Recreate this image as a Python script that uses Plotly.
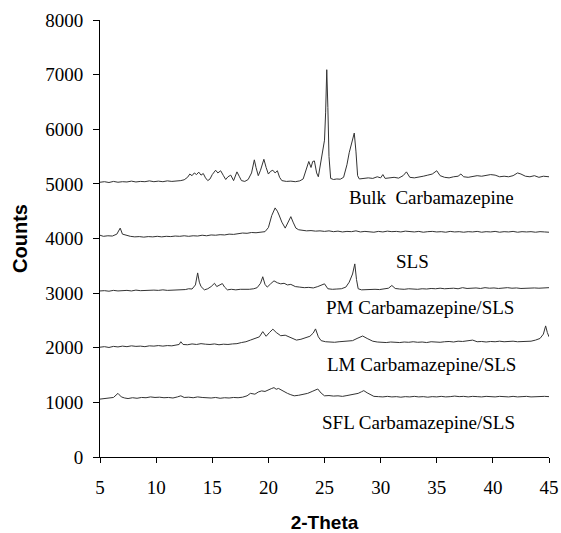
import plotly.graph_objects as go

# ---- data (2-theta, counts) ----
bulk_pattern = [(5.0,5030),(5.4,5040),(5.8,5025),(6.2,5045),(6.6,5030),(7.0,5040),(7.4,5035),(7.8,5050),(8.2,5035),(8.6,5045),(9.0,5040),(9.4,5055),(9.8,5040),(10.2,5050),(10.6,5040),(11.0,5055),(11.4,5045),(11.8,5050),(12.2,5060),(12.5,5075),(12.8,5120),(13.0,5180),(13.2,5150),(13.4,5200),(13.6,5170),(13.8,5215),(14.0,5160),(14.2,5190),(14.4,5110),(14.6,5060),(14.8,5090),(15.0,5170),(15.3,5250),(15.5,5200),(15.75,5240),(16.0,5150),(16.2,5080),(16.4,5130),(16.65,5160),(16.9,5060),(17.05,5150),(17.2,5220),(17.4,5140),(17.6,5060),(17.9,5045),(18.2,5080),(18.5,5200),(18.75,5440),(18.9,5300),(19.1,5150),(19.3,5250),(19.6,5450),(19.8,5300),(20.0,5180),(20.2,5230),(20.4,5250),(20.6,5200),(20.8,5240),(21.0,5120),(21.2,5060),(21.6,5045),(22.0,5050),(22.4,5040),(22.8,5055),(23.1,5090),(23.35,5250),(23.6,5410),(23.8,5300),(23.95,5410),(24.1,5420),(24.3,5200),(24.45,5130),(24.6,5300),(24.8,5560),(25.0,5800),(25.1,6300),(25.2,7090),(25.3,6400),(25.4,5500),(25.55,5100),(25.8,5080),(26.1,5090),(26.4,5085),(26.7,5120),(27.0,5350),(27.2,5570),(27.45,5750),(27.65,5930),(27.8,5600),(27.95,5150),(28.1,5090),(28.5,5095),(28.9,5110),(29.3,5100),(29.7,5130),(30.0,5110),(30.2,5170),(30.4,5100),(30.8,5110),(31.2,5120),(31.6,5105),(32.0,5150),(32.3,5220),(32.6,5120),(33.0,5110),(33.4,5120),(33.8,5140),(34.2,5160),(34.6,5180),(35.0,5240),(35.3,5150),(35.7,5120),(36.1,5110),(36.5,5130),(36.9,5140),(37.15,5180),(37.4,5130),(37.8,5120),(38.2,5130),(38.6,5150),(39.0,5140),(39.4,5150),(39.8,5170),(40.2,5160),(40.6,5130),(41.0,5140),(41.4,5130),(41.8,5150),(42.2,5200),(42.5,5180),(42.9,5140),(43.3,5130),(43.7,5150),(44.1,5120),(44.5,5140),(45.0,5130)]

sls_pattern = [(5.0,4060),(5.3,4040),(5.7,4050),(6.1,4045),(6.5,4080),(6.8,4190),(7.0,4080),(7.3,4060),(7.7,4040),(8.1,4030),(8.5,4035),(8.9,4025),(9.3,4035),(9.7,4030),(10.1,4040),(10.5,4030),(10.9,4040),(11.3,4035),(11.7,4045),(12.1,4040),(12.5,4050),(12.9,4040),(13.3,4050),(13.7,4045),(14.1,4060),(14.5,4050),(14.9,4065),(15.3,4060),(15.7,4070),(16.1,4065),(16.5,4080),(16.9,4075),(17.3,4090),(17.7,4100),(18.1,4095),(18.5,4110),(18.9,4105),(19.3,4120),(19.7,4125),(20.0,4200),(20.3,4420),(20.6,4560),(20.8,4500),(20.95,4430),(21.2,4300),(21.5,4190),(21.75,4300),(22.0,4400),(22.2,4300),(22.45,4190),(22.7,4160),(23.0,4150),(23.4,4140),(23.8,4145),(24.2,4135),(24.6,4140),(25.0,4130),(25.4,4140),(25.8,4125),(26.2,4135),(26.6,4120),(27.0,4130),(27.4,4125),(27.8,4140),(28.2,4120),(28.6,4130),(29.0,4125),(29.4,4115),(29.8,4130),(30.2,4120),(30.6,4135),(31.0,4125),(31.4,4130),(31.8,4120),(32.2,4135),(32.6,4125),(33.0,4120),(33.4,4130),(33.8,4115),(34.2,4125),(34.6,4130),(35.0,4120),(35.4,4125),(35.8,4115),(36.2,4130),(36.6,4120),(37.0,4125),(37.4,4115),(37.8,4125),(38.2,4120),(38.6,4130),(39.0,4115),(39.4,4125),(39.8,4120),(40.2,4130),(40.6,4115),(41.0,4125),(41.4,4120),(41.8,4130),(42.2,4115),(42.6,4125),(43.0,4120),(43.4,4125),(43.8,4115),(44.2,4125),(44.6,4120),(45.0,4115)]

pm_pattern = [(5.0,3040),(5.4,3045),(5.8,3035),(6.2,3050),(6.6,3040),(7.0,3045),(7.4,3050),(7.8,3040),(8.2,3055),(8.6,3045),(9.0,3050),(9.4,3045),(9.8,3055),(10.2,3050),(10.6,3060),(11.0,3050),(11.4,3055),(11.8,3060),(12.2,3055),(12.6,3065),(12.9,3080),(13.2,3075),(13.5,3150),(13.7,3370),(13.85,3200),(14.0,3120),(14.3,3060),(14.6,3080),(14.9,3120),(15.2,3180),(15.4,3120),(15.6,3140),(15.9,3175),(16.1,3110),(16.35,3060),(16.7,3070),(17.1,3060),(17.5,3070),(17.9,3065),(18.3,3070),(18.7,3080),(19.0,3100),(19.3,3180),(19.5,3300),(19.7,3160),(19.9,3110),(20.2,3170),(20.5,3225),(20.8,3190),(21.1,3170),(21.4,3180),(21.7,3150),(22.0,3160),(22.4,3120),(22.8,3110),(23.2,3100),(23.6,3105),(24.0,3095),(24.4,3120),(24.8,3160),(25.0,3170),(25.3,3080),(25.7,3070),(26.1,3075),(26.5,3080),(26.9,3110),(27.2,3200),(27.5,3350),(27.7,3535),(27.85,3250),(28.0,3080),(28.3,3060),(28.7,3065),(29.1,3060),(29.5,3070),(29.9,3065),(30.3,3080),(30.7,3090),(31.0,3140),(31.3,3085),(31.7,3075),(32.1,3070),(32.5,3080),(32.9,3075),(33.3,3070),(33.7,3080),(34.1,3075),(34.5,3085),(34.9,3080),(35.3,3090),(35.7,3080),(36.1,3085),(36.5,3090),(36.9,3080),(37.3,3100),(37.7,3085),(38.1,3090),(38.5,3095),(38.9,3085),(39.3,3100),(39.7,3090),(40.1,3095),(40.5,3085),(40.9,3090),(41.3,3100),(41.7,3090),(42.1,3095),(42.5,3085),(42.9,3090),(43.3,3100),(43.7,3095),(44.1,3090),(44.5,3100),(45.0,3100)]

lm_pattern = [(5.0,2010),(5.4,2020),(5.8,2005),(6.2,2025),(6.6,2015),(7.0,2030),(7.4,2020),(7.8,2035),(8.2,2025),(8.6,2030),(9.0,2020),(9.4,2035),(9.8,2030),(10.2,2040),(10.6,2030),(11.0,2040),(11.4,2035),(11.8,2045),(12.05,2060),(12.2,2110),(12.4,2060),(12.8,2055),(13.2,2070),(13.6,2060),(14.0,2075),(14.4,2065),(14.8,2060),(15.2,2070),(15.6,2055),(16.0,2065),(16.4,2060),(16.8,2070),(17.2,2075),(17.6,2095),(18.0,2110),(18.4,2140),(18.8,2170),(19.2,2200),(19.5,2295),(19.8,2210),(20.1,2280),(20.4,2340),(20.7,2280),(21.1,2220),(21.5,2230),(21.85,2200),(22.2,2160),(22.5,2140),(22.9,2155),(23.3,2180),(23.7,2210),(24.0,2270),(24.2,2345),(24.45,2200),(24.7,2130),(25.1,2110),(25.5,2105),(25.9,2100),(26.3,2110),(26.7,2115),(27.1,2120),(27.5,2130),(27.9,2170),(28.4,2215),(28.8,2170),(29.3,2120),(29.7,2105),(30.1,2100),(30.5,2095),(30.9,2105),(31.3,2100),(31.7,2095),(32.1,2105),(32.5,2100),(32.9,2110),(33.3,2100),(33.7,2105),(34.1,2095),(34.5,2110),(34.9,2105),(35.3,2100),(35.7,2110),(36.1,2115),(36.5,2105),(36.9,2120),(37.3,2115),(37.7,2125),(38.2,2140),(38.6,2110),(39.0,2115),(39.4,2105),(39.8,2115),(40.2,2110),(40.6,2120),(41.0,2110),(41.4,2115),(41.8,2120),(42.2,2110),(42.6,2115),(43.0,2125),(43.4,2120),(43.8,2140),(44.2,2170),(44.5,2250),(44.7,2400),(44.85,2280),(45.0,2200)]

sfl_pattern = [(5.0,1060),(5.4,1070),(5.8,1075),(6.2,1090),(6.6,1165),(6.9,1100),(7.2,1080),(7.5,1070),(7.9,1085),(8.3,1075),(8.7,1090),(9.1,1085),(9.5,1100),(9.9,1090),(10.3,1095),(10.7,1085),(11.1,1090),(11.5,1080),(11.9,1100),(12.2,1120),(12.5,1090),(12.9,1095),(13.3,1085),(13.7,1100),(14.1,1090),(14.5,1085),(14.9,1080),(15.3,1090),(15.7,1075),(16.1,1085),(16.5,1080),(16.9,1090),(17.3,1085),(17.7,1095),(18.1,1120),(18.4,1165),(18.8,1150),(19.1,1190),(19.4,1210),(19.7,1200),(20.0,1235),(20.3,1255),(20.5,1270),(20.7,1240),(20.9,1255),(21.25,1210),(21.5,1190),(21.7,1165),(22.0,1140),(22.3,1120),(22.7,1130),(23.1,1150),(23.5,1165),(23.9,1200),(24.2,1220),(24.4,1245),(24.7,1170),(25.0,1120),(25.4,1125),(25.8,1115),(26.2,1120),(26.6,1110),(27.0,1125),(27.4,1140),(27.7,1150),(28.0,1165),(28.3,1195),(28.5,1215),(28.8,1175),(29.1,1140),(29.4,1110),(29.8,1105),(30.2,1100),(30.6,1110),(31.0,1100),(31.4,1105),(31.8,1095),(32.2,1105),(32.6,1100),(33.0,1110),(33.4,1100),(33.8,1105),(34.2,1095),(34.6,1105),(35.0,1100),(35.4,1110),(35.8,1100),(36.2,1105),(36.6,1115),(37.0,1105),(37.4,1110),(37.8,1100),(38.2,1110),(38.6,1105),(39.0,1100),(39.4,1110),(39.8,1105),(40.2,1100),(40.6,1110),(41.0,1105),(41.4,1100),(41.8,1110),(42.2,1100),(42.6,1105),(43.0,1110),(43.4,1100),(43.8,1105),(44.2,1100),(44.6,1110),(45.0,1105)]

series_names = ["Bulk\u00a0\u00a0Carbamazepine", "SLS", "PM Carbamazepine/SLS",
                "LM Carbamazepine/SLS", "SFL Carbamazepine/SLS"]
label_x = [34.5, 32.8, 33.5, 33.6, 33.4]
label_y = [4744, 3571, 2729, 1685, 623]

x_ticks = [5, 10, 15, 20, 25, 30, 35, 40, 45]
y_ticks = [0, 1000, 2000, 3000, 4000, 5000, 6000, 7000, 8000]

patterns = [bulk_pattern, sls_pattern, pm_pattern, lm_pattern, sfl_pattern]

fig = go.Figure()
for name, pat in zip(series_names, patterns):
    fig.add_trace(go.Scatter(
        x=[p[0] for p in pat], y=[p[1] for p in pat],
        mode="lines", name=name,
        line=dict(color="#333333", width=1),
        showlegend=False,
    ))

for name, lx, ly in zip(series_names, label_x, label_y):
    fig.add_annotation(x=lx, y=ly, text=name, showarrow=False,
                       xanchor="center", yanchor="middle",
                       font=dict(family="Liberation Serif", size=19, color="black"))

fig.update_layout(
    width=561, height=533,
    margin=dict(l=100, r=12, t=20, b=76, autoexpand=False),
    plot_bgcolor="white", paper_bgcolor="white",
    font=dict(family="Liberation Serif", size=18, color="black"),
)
fig.update_xaxes(
    range=[5, 45], tickvals=x_ticks, ticktext=[str(v) for v in x_ticks],
    showline=True, linecolor="black", linewidth=1,
    ticks="outside", ticklen=5, tickcolor="black",
    showgrid=False, zeroline=False, automargin=False,
    tickfont=dict(family="Liberation Serif", size=19),
    ticklabelstandoff=8,
    title=dict(text="<b>2-Theta</b>", font=dict(family="Liberation Sans", size=19), standoff=22),
)
fig.update_yaxes(
    range=[0, 8000], tickvals=y_ticks, ticktext=[str(v) for v in y_ticks],
    showline=True, linecolor="black", linewidth=1,
    ticks="outside", ticklen=6, tickcolor="black",
    showgrid=False, zeroline=False, automargin=False,
    tickfont=dict(family="Liberation Serif", size=19),
    ticklabelstandoff=6,
    title=dict(text="<b>Counts</b>", font=dict(family="Liberation Sans", size=20), standoff=12),
)

fig.write_html("out.html")
